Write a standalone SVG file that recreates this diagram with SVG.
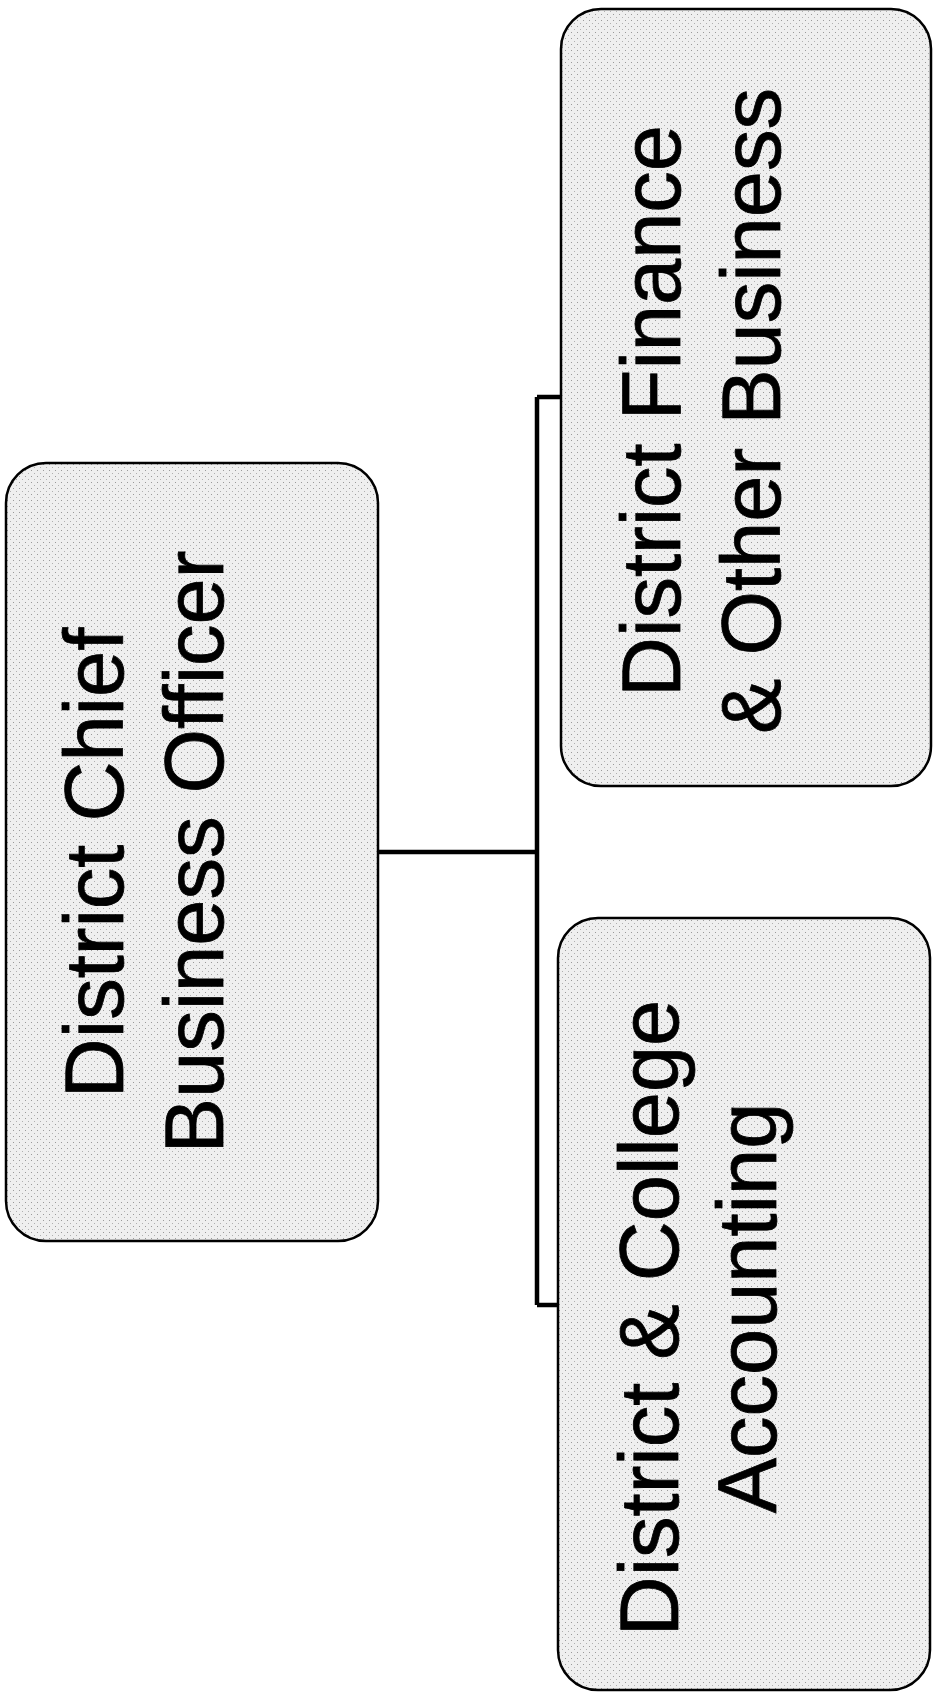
<svg xmlns="http://www.w3.org/2000/svg" width="933" height="1698" viewBox="0 0 933 1698">
<defs>
<pattern id="stip" width="6" height="6" patternUnits="userSpaceOnUse">
<rect width="6" height="6" fill="#efefef"/>
<rect x="1" y="2" width="1" height="1" fill="#9a9a9a"/>
<rect x="4" y="5" width="1" height="1" fill="#b0b0b0"/>
</pattern>
</defs>
<style>
.box{fill:url(#stip);stroke:#000;stroke-width:2.5}
.lbl{font-family:"Liberation Sans",Arial,sans-serif;font-size:83px;fill:#000;stroke:#000;stroke-width:0.8;text-anchor:middle}
.con{fill:none;stroke:#000;stroke-width:4.5}
</style>
<rect width="933" height="1698" fill="#fff"/>
<g id="connectors">
<path class="con" d="M378 852 H537 M537 397 V1305 M537 397 H561 M537 1305 H558"/>
</g>
<g id="node-cbo">
<rect class="box" x="6" y="463" width="372" height="778" rx="40" ry="40"/>
<text class="lbl" transform="translate(123,863) rotate(-90)">District Chief</text>
<text class="lbl" transform="translate(223,852) rotate(-90)">Business Officer</text>
</g>
<g id="node-finance">
<rect class="box" x="561" y="9" width="370" height="777" rx="40" ry="40"/>
<text class="lbl" transform="translate(680,411) rotate(-90)">District Finance</text>
<text class="lbl" transform="translate(780,411) rotate(-90)">&amp; Other Business</text>
</g>
<g id="node-accounting">
<rect class="box" x="558" y="918" width="372" height="772" rx="40" ry="40"/>
<text class="lbl" transform="translate(678,1318) rotate(-90)">District &amp; College</text>
<text class="lbl" transform="translate(776,1308) rotate(-90)">Accounting</text>
</g>
</svg>
